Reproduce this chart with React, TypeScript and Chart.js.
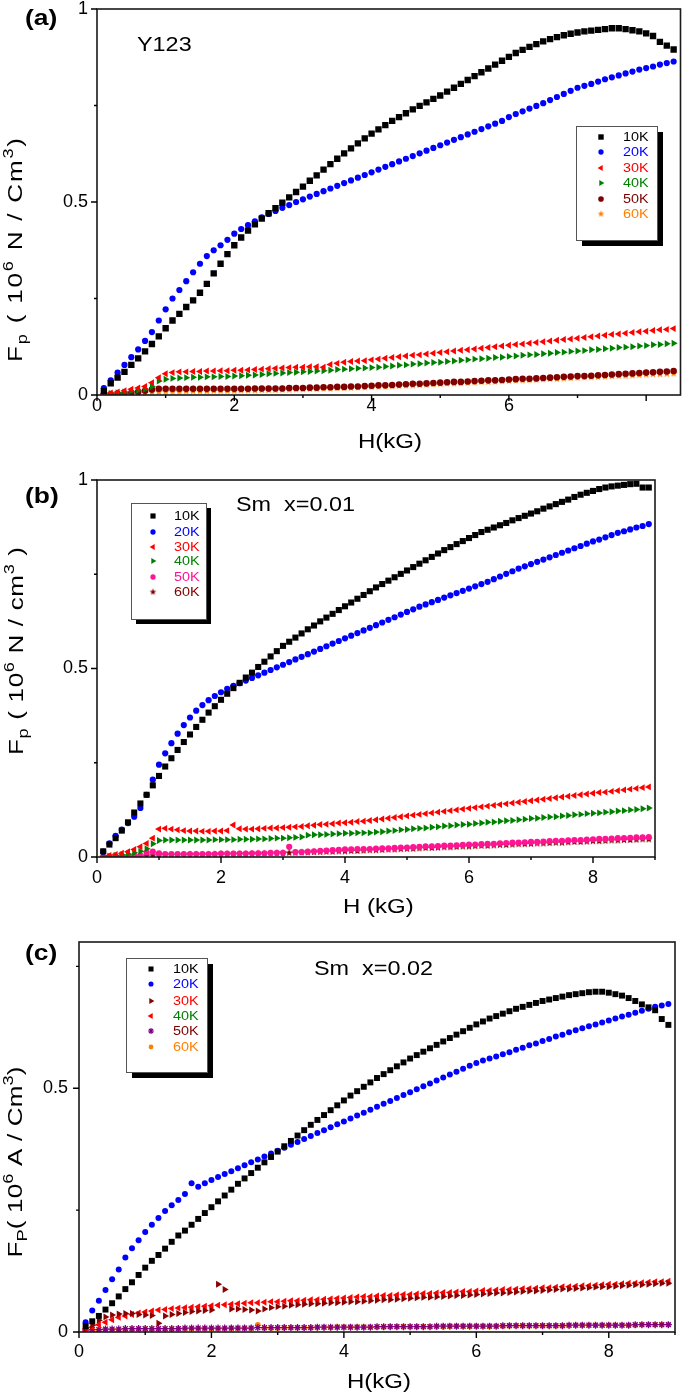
import React, { useEffect, useRef } from 'react';
import { Chart, registerables } from 'chart.js';
import { drawPoint } from 'chart.js/helpers';

Chart.register(...registerables);

const FONT = "'Liberation Sans', Arial, Helvetica, sans-serif";

// ---------------- data ----------------
const X_TICK_LABELS = ['0', '2', '4', '6', '8'];
const Y_TICK_LABELS_AB = ['0', '0.5', '1'];
const Y_TICK_LABELS_C = ['0', '0.5'];
const TEMPS = ['10K', '20K', '30K', '40K', '50K', '60K'];

// panel (a) Y123, H in kG
const H_A = [
  0.1, 0.2, 0.3, 0.4, 0.5, 0.6, 0.7, 0.8, 0.9, 1.0,
  1.1, 1.2, 1.3, 1.4, 1.5, 1.6, 1.7, 1.8, 1.9, 2.0,
  2.1, 2.2, 2.3, 2.4, 2.5, 2.6, 2.7, 2.8, 2.9, 3.0,
  3.1, 3.2, 3.3, 3.4, 3.5, 3.6, 3.7, 3.8, 3.9, 4.0,
  4.1, 4.2, 4.3, 4.4, 4.5, 4.6, 4.7, 4.8, 4.9, 5.0,
  5.1, 5.2, 5.3, 5.4, 5.5, 5.6, 5.7, 5.8, 5.9, 6.0,
  6.1, 6.2, 6.3, 6.4, 6.5, 6.6, 6.7, 6.8, 6.9, 7.0,
  7.1, 7.2, 7.3, 7.4, 7.5, 7.6, 7.7, 7.8, 7.9, 8.0,
  8.1, 8.2, 8.3, 8.4,
];
const A_10K = [
  0.01, 0.03, 0.045, 0.06, 0.078, 0.095, 0.113, 0.132, 0.152, 0.173,
  0.193, 0.21, 0.228, 0.245, 0.265, 0.288, 0.315, 0.34, 0.365, 0.388,
  0.408, 0.426, 0.442, 0.457, 0.471, 0.484, 0.498, 0.512, 0.526, 0.54,
  0.555, 0.569, 0.584, 0.598, 0.612, 0.626, 0.639, 0.652, 0.665, 0.677,
  0.688, 0.699, 0.71, 0.72, 0.73, 0.74, 0.749, 0.758, 0.767, 0.776,
  0.786, 0.796, 0.806, 0.816, 0.826, 0.836, 0.846, 0.856, 0.866, 0.876,
  0.886, 0.894, 0.902, 0.909, 0.916, 0.922, 0.927, 0.932, 0.936, 0.939,
  0.942, 0.944, 0.946, 0.948, 0.95, 0.95, 0.948, 0.945, 0.942, 0.937,
  0.93, 0.915, 0.905, 0.895,
];
const A_20K = [
  0.018, 0.038, 0.058, 0.078, 0.098, 0.118, 0.14, 0.163, 0.193, 0.222,
  0.25, 0.272, 0.295, 0.318, 0.34, 0.36, 0.375, 0.388, 0.402, 0.418,
  0.43, 0.44, 0.45, 0.46, 0.469, 0.477, 0.485, 0.492, 0.5, 0.507,
  0.514, 0.521, 0.528, 0.535, 0.542, 0.549, 0.556, 0.563, 0.57, 0.577,
  0.584, 0.591, 0.598, 0.605, 0.612, 0.619, 0.626, 0.633, 0.64, 0.647,
  0.654, 0.661, 0.668, 0.675, 0.682, 0.689, 0.696, 0.703, 0.71, 0.72,
  0.728, 0.735, 0.742, 0.749, 0.756, 0.764, 0.772, 0.78, 0.788, 0.796,
  0.801, 0.806, 0.812, 0.818, 0.823, 0.828, 0.833, 0.838, 0.843, 0.847,
  0.851, 0.856, 0.86, 0.864,
];
const A_30K = [
  0.003, 0.005, 0.008, 0.011, 0.015, 0.018, 0.022, 0.032, 0.045, 0.055,
  0.058, 0.06, 0.06, 0.061, 0.061, 0.062, 0.062, 0.063, 0.063, 0.064,
  0.064, 0.065, 0.066, 0.067, 0.068, 0.069, 0.07, 0.071, 0.072, 0.072,
  0.073, 0.073, 0.072, 0.079, 0.082, 0.085, 0.087, 0.088, 0.089, 0.091,
  0.093, 0.095, 0.097, 0.099, 0.101, 0.103, 0.104, 0.106, 0.108, 0.11,
  0.112, 0.114, 0.116, 0.117, 0.119, 0.121, 0.123, 0.125, 0.127, 0.129,
  0.131, 0.132, 0.134, 0.136, 0.138, 0.14, 0.142, 0.144, 0.145, 0.147,
  0.149, 0.151, 0.153, 0.155, 0.157, 0.158, 0.16, 0.162, 0.164, 0.165,
  0.167, 0.169, 0.17, 0.172,
];
const A_40K = [
  0.002, 0.004, 0.006, 0.008, 0.01, 0.012, 0.015, 0.022, 0.036, 0.041,
  0.043, 0.044, 0.045, 0.046, 0.046, 0.047, 0.047, 0.048, 0.048, 0.049,
  0.05, 0.051, 0.052, 0.053, 0.055, 0.056, 0.057, 0.058, 0.059, 0.06,
  0.061, 0.062, 0.063, 0.064, 0.066, 0.067, 0.068, 0.069, 0.07, 0.071,
  0.072, 0.074, 0.075, 0.077, 0.078, 0.08, 0.081, 0.083, 0.084, 0.085,
  0.087, 0.088, 0.09, 0.091, 0.093, 0.094, 0.095, 0.097, 0.098, 0.1,
  0.101, 0.103, 0.104, 0.105, 0.107, 0.108, 0.11, 0.111, 0.113, 0.114,
  0.115, 0.117, 0.118, 0.12, 0.121, 0.123, 0.124, 0.125, 0.127, 0.128,
  0.13, 0.131, 0.133, 0.134,
];
const A_50K = [
  0.001, 0.002, 0.003, 0.004, 0.006, 0.008, 0.011, 0.014, 0.016, 0.016,
  0.016, 0.016, 0.016, 0.016, 0.016, 0.016, 0.016, 0.016, 0.016, 0.016,
  0.016, 0.016, 0.017, 0.017, 0.017, 0.017, 0.017, 0.018, 0.018, 0.018,
  0.019, 0.019, 0.02, 0.02, 0.021, 0.021, 0.022, 0.022, 0.023, 0.024,
  0.025, 0.025, 0.026, 0.027, 0.028, 0.029, 0.029, 0.03, 0.031, 0.032,
  0.033, 0.034, 0.034, 0.035, 0.036, 0.037, 0.038, 0.038, 0.039, 0.04,
  0.041, 0.042, 0.042, 0.043, 0.044, 0.045, 0.046, 0.047, 0.048, 0.049,
  0.049, 0.05, 0.051, 0.052, 0.053, 0.054, 0.055, 0.056, 0.057, 0.058,
  0.059, 0.06, 0.061, 0.062,
];
const A_60K = [
  0.001, 0.001, 0.002, 0.002, 0.003, 0.004, 0.005, 0.007, 0.008, 0.009,
  0.009, 0.009, 0.01, 0.01, 0.01, 0.01, 0.011, 0.011, 0.011, 0.011,
  0.012, 0.012, 0.012, 0.013, 0.013, 0.013, 0.014, 0.014, 0.015, 0.015,
  0.016, 0.016, 0.017, 0.017, 0.018, 0.018, 0.019, 0.02, 0.02, 0.021,
  0.022, 0.022, 0.023, 0.024, 0.025, 0.025, 0.026, 0.027, 0.028, 0.029,
  0.03, 0.03, 0.031, 0.032, 0.033, 0.034, 0.034, 0.035, 0.036, 0.037,
  0.038, 0.038, 0.039, 0.04, 0.041, 0.042, 0.042, 0.043, 0.044, 0.045,
  0.046, 0.046, 0.047, 0.048, 0.049, 0.05, 0.05, 0.051, 0.052, 0.053,
  0.054, 0.054, 0.055, 0.056,
];

// panels (b) and (c), H in kG
const H_BC = [
  0.1, 0.2, 0.3, 0.4, 0.5, 0.6, 0.7, 0.8, 0.9, 1.0,
  1.1, 1.2, 1.3, 1.4, 1.5, 1.6, 1.7, 1.8, 1.9, 2.0,
  2.1, 2.2, 2.3, 2.4, 2.5, 2.6, 2.7, 2.8, 2.9, 3.0,
  3.1, 3.2, 3.3, 3.4, 3.5, 3.6, 3.7, 3.8, 3.9, 4.0,
  4.1, 4.2, 4.3, 4.4, 4.5, 4.6, 4.7, 4.8, 4.9, 5.0,
  5.1, 5.2, 5.3, 5.4, 5.5, 5.6, 5.7, 5.8, 5.9, 6.0,
  6.1, 6.2, 6.3, 6.4, 6.5, 6.6, 6.7, 6.8, 6.9, 7.0,
  7.1, 7.2, 7.3, 7.4, 7.5, 7.6, 7.7, 7.8, 7.9, 8.0,
  8.1, 8.2, 8.3, 8.4, 8.5, 8.6, 8.7, 8.8, 8.9,
];
const B_10K = [
  0.015, 0.033, 0.05, 0.07, 0.092, 0.118, 0.142, 0.165, 0.19, 0.215,
  0.24, 0.262, 0.284, 0.305, 0.325, 0.345, 0.364, 0.383, 0.4, 0.417,
  0.433, 0.448, 0.462, 0.476, 0.489, 0.504, 0.518, 0.532, 0.546, 0.56,
  0.571, 0.582, 0.593, 0.604, 0.614, 0.625, 0.635, 0.645, 0.655, 0.665,
  0.675, 0.685, 0.695, 0.705, 0.715, 0.724, 0.733, 0.742, 0.751, 0.76,
  0.769, 0.778, 0.787, 0.796, 0.805, 0.814, 0.822, 0.83, 0.838, 0.846,
  0.854, 0.862, 0.868, 0.874, 0.88, 0.886, 0.893, 0.899, 0.905, 0.911,
  0.917, 0.924, 0.93, 0.936, 0.942, 0.948, 0.955, 0.961, 0.966, 0.971,
  0.976, 0.98, 0.983, 0.985, 0.987, 0.989, 0.99, 0.98, 0.98,
];
const B_20K = [
  0.014, 0.036, 0.056, 0.073, 0.09, 0.107, 0.13, 0.165, 0.205, 0.245,
  0.275, 0.302, 0.327, 0.35, 0.37, 0.388, 0.403, 0.416, 0.427, 0.437,
  0.446, 0.454, 0.461, 0.468, 0.475, 0.482, 0.489, 0.496, 0.503, 0.51,
  0.517, 0.524, 0.531, 0.538, 0.545, 0.552, 0.559, 0.566, 0.573, 0.58,
  0.587, 0.594, 0.601, 0.608, 0.615, 0.622, 0.629, 0.636, 0.643, 0.65,
  0.657, 0.664, 0.67, 0.676, 0.682, 0.688, 0.694, 0.7, 0.706, 0.712,
  0.718, 0.724, 0.73, 0.737, 0.744, 0.751, 0.758, 0.765, 0.771, 0.777,
  0.783, 0.789, 0.795, 0.801, 0.807, 0.813, 0.819, 0.825, 0.831, 0.837,
  0.842, 0.848, 0.854, 0.86, 0.864, 0.869, 0.874, 0.878, 0.883,
];
const B_30K = [
  0.001, 0.004, 0.007, 0.01, 0.014, 0.02, 0.027, 0.036, 0.05, 0.074,
  0.076, 0.074, 0.072, 0.07, 0.069, 0.069, 0.068, 0.068, 0.069, 0.069,
  0.07, 0.085, 0.075, 0.074, 0.074, 0.075, 0.076, 0.077, 0.077, 0.078,
  0.079, 0.08, 0.081, 0.083, 0.084, 0.086, 0.087, 0.088, 0.09, 0.091,
  0.092, 0.094, 0.095, 0.097, 0.099, 0.101, 0.103, 0.105, 0.107, 0.109,
  0.111, 0.113, 0.115, 0.117, 0.119, 0.121, 0.123, 0.125, 0.127, 0.129,
  0.131, 0.133, 0.135, 0.137, 0.139, 0.141, 0.143, 0.145, 0.147, 0.149,
  0.151, 0.153, 0.155, 0.157, 0.159, 0.161, 0.163, 0.165, 0.167, 0.169,
  0.171, 0.172, 0.174, 0.176, 0.178, 0.18, 0.182, 0.184, 0.186,
];
const B_40K = [
  0.001, 0.002, 0.004, 0.006, 0.008, 0.011, 0.015, 0.022, 0.035, 0.044,
  0.045, 0.045, 0.045, 0.045, 0.045, 0.045, 0.045, 0.045, 0.046, 0.046,
  0.046, 0.046, 0.047, 0.047, 0.047, 0.048, 0.048, 0.049, 0.05, 0.05,
  0.051, 0.052, 0.053, 0.058, 0.059, 0.059, 0.06, 0.061, 0.062, 0.063,
  0.063, 0.064, 0.064, 0.064, 0.066, 0.067, 0.069, 0.07, 0.072, 0.073,
  0.075, 0.076, 0.077, 0.079, 0.08, 0.082, 0.083, 0.085, 0.086, 0.087,
  0.089, 0.09, 0.092, 0.093, 0.095, 0.096, 0.097, 0.099, 0.1, 0.102,
  0.103, 0.105, 0.106, 0.107, 0.109, 0.11, 0.112, 0.113, 0.115, 0.116,
  0.117, 0.119, 0.12, 0.122, 0.123, 0.125, 0.126, 0.128, 0.13,
];
const B_50K = [
  0.0, 0.001, 0.001, 0.002, 0.002, 0.003, 0.004, 0.012, 0.014, 0.01,
  0.008, 0.008, 0.008, 0.008, 0.008, 0.008, 0.008, 0.008, 0.008, 0.009,
  0.009, 0.009, 0.009, 0.009, 0.01, 0.01, 0.01, 0.011, 0.011, 0.011,
  0.027, 0.013, 0.013, 0.014, 0.015, 0.016, 0.017, 0.018, 0.019, 0.02,
  0.02, 0.021, 0.021, 0.021, 0.022, 0.023, 0.023, 0.024, 0.025, 0.025,
  0.026, 0.027, 0.028, 0.028, 0.029, 0.03, 0.03, 0.031, 0.032, 0.033,
  0.033, 0.034, 0.035, 0.035, 0.036, 0.037, 0.038, 0.038, 0.039, 0.04,
  0.04, 0.041, 0.042, 0.043, 0.043, 0.044, 0.045, 0.045, 0.046, 0.047,
  0.048, 0.048, 0.049, 0.05, 0.05, 0.051, 0.052, 0.052, 0.053,
];
const B_60K = [
  0.0, 0.0, 0.001, 0.001, 0.001, 0.002, 0.002, 0.003, 0.004, 0.004,
  0.005, 0.005, 0.005, 0.005, 0.006, 0.006, 0.006, 0.006, 0.007, 0.007,
  0.007, 0.007, 0.008, 0.008, 0.008, 0.009, 0.009, 0.009, 0.01, 0.01,
  0.011, 0.011, 0.012, 0.012, 0.013, 0.013, 0.014, 0.014, 0.015, 0.015,
  0.016, 0.016, 0.017, 0.018, 0.018, 0.019, 0.02, 0.02, 0.021, 0.022,
  0.022, 0.023, 0.024, 0.024, 0.025, 0.026, 0.026, 0.027, 0.028, 0.028,
  0.029, 0.03, 0.03, 0.031, 0.032, 0.032, 0.033, 0.034, 0.034, 0.035,
  0.036, 0.036, 0.037, 0.038, 0.038, 0.039, 0.04, 0.04, 0.041, 0.042,
  0.042, 0.043, 0.044, 0.044, 0.045, 0.045, 0.046, 0.047, 0.047,
];
const C_10K = [
  0.012, 0.022, 0.033, 0.046, 0.059, 0.073, 0.088, 0.102, 0.117, 0.132,
  0.146, 0.158, 0.171, 0.185, 0.198, 0.208, 0.22, 0.232, 0.244, 0.256,
  0.268, 0.28, 0.292, 0.304, 0.315, 0.326, 0.337, 0.348, 0.359, 0.37,
  0.381, 0.392, 0.403, 0.414, 0.425, 0.435, 0.445, 0.455, 0.465, 0.475,
  0.485, 0.494, 0.503, 0.512, 0.521, 0.529, 0.537, 0.545, 0.553, 0.561,
  0.568, 0.575, 0.582, 0.589, 0.596, 0.603, 0.61, 0.617, 0.624, 0.631,
  0.637, 0.643, 0.648, 0.653, 0.658, 0.663, 0.667, 0.671, 0.675, 0.679,
  0.682, 0.685, 0.688, 0.691, 0.693, 0.695, 0.697, 0.698, 0.698, 0.696,
  0.693, 0.69, 0.685, 0.679, 0.672, 0.666, 0.66, 0.642, 0.63,
];
const C_20K = [
  0.02, 0.044, 0.064, 0.086, 0.108, 0.128, 0.153, 0.172, 0.188, 0.205,
  0.22, 0.234, 0.248, 0.26, 0.271, 0.283, 0.305, 0.298, 0.305, 0.312,
  0.318, 0.324, 0.33, 0.336, 0.342, 0.348, 0.354, 0.36, 0.366, 0.372,
  0.378, 0.384, 0.39, 0.396, 0.402, 0.408, 0.414, 0.42, 0.426, 0.432,
  0.438, 0.444, 0.45, 0.456, 0.462, 0.468, 0.474, 0.48, 0.486, 0.492,
  0.498, 0.504, 0.51, 0.516, 0.522, 0.528, 0.534, 0.54, 0.546, 0.552,
  0.557, 0.561, 0.565, 0.57, 0.574, 0.579, 0.583, 0.588, 0.592, 0.597,
  0.601, 0.606, 0.61, 0.615, 0.619, 0.623, 0.627, 0.631, 0.635, 0.639,
  0.643, 0.647, 0.651, 0.655, 0.659, 0.663, 0.667, 0.67, 0.673,
];
const C_30K = [
  0.008, 0.014, 0.024, 0.031, 0.035, 0.037, 0.038, 0.038, 0.036, 0.035,
  0.034, 0.018, 0.033, 0.036, 0.038, 0.04, 0.042, 0.043, 0.044, 0.045,
  0.098, 0.087, 0.047, 0.047, 0.046, 0.045, 0.043, 0.047, 0.05, 0.052,
  0.053, 0.055, 0.056, 0.057, 0.058, 0.058, 0.059, 0.06, 0.06, 0.061,
  0.062, 0.062, 0.063, 0.064, 0.065, 0.066, 0.066, 0.067, 0.068, 0.069,
  0.07, 0.071, 0.071, 0.072, 0.073, 0.074, 0.075, 0.075, 0.076, 0.077,
  0.078, 0.079, 0.08, 0.08, 0.081, 0.082, 0.083, 0.084, 0.084, 0.085,
  0.086, 0.087, 0.088, 0.088, 0.089, 0.09, 0.091, 0.092, 0.093, 0.093,
  0.094, 0.095, 0.096, 0.097, 0.097, 0.098, 0.099, 0.1, 0.1,
];
const C_40K = [
  0.006, 0.01, 0.015, 0.02, 0.025, 0.03, 0.033, 0.036, 0.039, 0.041,
  0.043, 0.045, 0.046, 0.048, 0.049, 0.05, 0.051, 0.052, 0.053, 0.054,
  0.055, 0.056, 0.057, 0.058, 0.059, 0.06, 0.06, 0.061, 0.062, 0.062,
  0.063, 0.064, 0.064, 0.065, 0.066, 0.066, 0.067, 0.068, 0.069, 0.07,
  0.071, 0.072, 0.073, 0.073, 0.074, 0.075, 0.075, 0.076, 0.077, 0.077,
  0.078, 0.079, 0.079, 0.08, 0.081, 0.081, 0.082, 0.083, 0.083, 0.084,
  0.085, 0.085, 0.086, 0.087, 0.087, 0.088, 0.089, 0.089, 0.09, 0.091,
  0.091, 0.092, 0.093, 0.093, 0.094, 0.095, 0.095, 0.096, 0.097, 0.098,
  0.098, 0.099, 0.1, 0.1, 0.101, 0.102, 0.103, 0.103, 0.104,
];
const C_50K = [
  0.004, 0.005, 0.005, 0.006, 0.006, 0.006, 0.007, 0.007, 0.007, 0.007,
  0.007, 0.007, 0.007, 0.007, 0.007, 0.008, 0.008, 0.008, 0.008, 0.008,
  0.008, 0.008, 0.008, 0.008, 0.008, 0.008, 0.009, 0.009, 0.009, 0.009,
  0.009, 0.009, 0.009, 0.009, 0.009, 0.01, 0.01, 0.01, 0.01, 0.01,
  0.01, 0.01, 0.01, 0.01, 0.011, 0.011, 0.011, 0.011, 0.011, 0.011,
  0.011, 0.011, 0.011, 0.012, 0.012, 0.012, 0.012, 0.012, 0.012, 0.012,
  0.012, 0.012, 0.012, 0.013, 0.013, 0.013, 0.013, 0.013, 0.013, 0.013,
  0.013, 0.013, 0.013, 0.014, 0.014, 0.014, 0.014, 0.014, 0.014, 0.014,
  0.014, 0.014, 0.014, 0.015, 0.015, 0.015, 0.015, 0.015, 0.015,
];
const C_60K = [
  0.003, 0.004, 0.004, 0.005, 0.005, 0.005, 0.005, 0.006, 0.006, 0.006,
  0.006, 0.006, 0.006, 0.006, 0.007, 0.007, 0.007, 0.007, 0.007, 0.007,
  0.007, 0.007, 0.008, 0.008, 0.008, 0.008, 0.015, 0.008, 0.008, 0.008,
  0.009, 0.009, 0.009, 0.009, 0.009, 0.009, 0.009, 0.009, 0.01, 0.01,
  0.01, 0.01, 0.01, 0.01, 0.01, 0.01, 0.011, 0.011, 0.011, 0.011,
  0.011, 0.011, 0.011, 0.011, 0.011, 0.012, 0.012, 0.012, 0.012, 0.012,
  0.012, 0.012, 0.012, 0.012, 0.013, 0.013, 0.013, 0.013, 0.013, 0.013,
  0.013, 0.013, 0.013, 0.013, 0.014, 0.014, 0.014, 0.014, 0.014, 0.014,
  0.014, 0.014, 0.014, 0.014, 0.015, 0.015, 0.015, 0.015, 0.015,
];

// ---------------- helpers ----------------
type Seg = { t: string; size: number; dy?: number; bold?: boolean };
type TextOpts = { sx?: number; rotate?: boolean; len?: number; maxSx?: number; align?: 'left' | 'center'; color?: string };

function drawText(ctx: CanvasRenderingContext2D, segs: Seg[], x: number, y: number, o: TextOpts = {}) {
  const chars: { ch: string; font: string; dy: number; w: number }[] = [];
  for (const s of segs) {
    const font = `${s.bold ? 'bold ' : ''}${s.size}px ${FONT}`;
    ctx.font = font;
    for (const ch of s.t) chars.push({ ch, font, dy: s.dy || 0, w: ctx.measureText(ch).width });
  }
  const raw = chars.reduce((a, c) => a + c.w, 0);
  let sx = o.sx ?? 1;
  if (o.len && o.maxSx) sx = Math.min(o.len / raw, o.maxSx);
  const natural = raw * sx;
  const gap = o.len ? (o.len - natural) / Math.max(chars.length - 1, 1) : 0;
  const total = o.len ?? natural;
  ctx.save();
  ctx.translate(x, y);
  if (o.rotate) ctx.rotate(-Math.PI / 2);
  ctx.fillStyle = o.color ?? '#000';
  ctx.textBaseline = 'alphabetic';
  ctx.textAlign = 'left';
  let pos = o.align === 'center' ? -total / 2 : 0;
  for (const c of chars) {
    ctx.font = c.font;
    ctx.save();
    ctx.translate(pos, c.dy);
    ctx.scale(sx, 1);
    ctx.fillText(c.ch, 0, 0);
    ctx.restore();
    pos += c.w * sx + gap;
  }
  ctx.restore();
}

function makeStar(color: string, r: number): HTMLCanvasElement {
  const s = Math.ceil(r * 2 + 2);
  const c = document.createElement('canvas');
  c.width = s;
  c.height = s;
  const g = c.getContext('2d')!;
  g.fillStyle = color;
  g.beginPath();
  for (let i = 0; i < 10; i++) {
    const rr = i % 2 === 0 ? r : r * 0.45;
    const a = -Math.PI / 2 + (i * Math.PI) / 5;
    const px = s / 2 + rr * Math.cos(a);
    const py = s / 2 + rr * Math.sin(a);
    if (i === 0) g.moveTo(px, py);
    else g.lineTo(px, py);
  }
  g.closePath();
  g.fill();
  return c;
}

interface SeriesSpec {
  label: string;
  ys: number[];
  color: string;
  textColor: string;
  style: string;
  radius: number;
  rotation?: number;
  stroke?: boolean;
}

interface PanelSpec {
  top: number;
  height: number;
  area: { l: number; r: number; t: number; b: number };
  xMax: number;
  yMax: number;
  xs: number[];
  yLabels: string[];
  xPad: number;
  yPad: number;
  series: SeriesSpec[];
  panelLabel: { text: string; x: number; y: number };
  note: { text: string; x: number; y: number; size: number };
  xTitle: { text: string; x: number; y: number };
  yTitle: { segs: Seg[]; x: number; y: number; len: number };
  legend: { x: number; y: number; w: number; h: number; sh: number; rows: number[]; mx: number; tx: number };
}

const SUB = 5;
const SUP = -9;

const PANELS: PanelSpec[] = [
  {
    top: 0,
    height: 462,
    area: { l: 97, r: 683, t: 9, b: 395 },
    xMax: 8.5,
    yMax: 1,
    xs: H_A,
    yLabels: Y_TICK_LABELS_AB,
    xPad: 0,
    yPad: 9,
    series: [
      { label: TEMPS[0], ys: A_10K, color: '#000000', textColor: '#000000', style: 'rect', radius: 4.5 },
      { label: TEMPS[1], ys: A_20K, color: '#0000ff', textColor: '#0000ff', style: 'circle', radius: 3.1 },
      { label: TEMPS[2], ys: A_30K, color: '#ff0000', textColor: '#ff0000', style: 'triangle', radius: 4, rotation: -90 },
      { label: TEMPS[3], ys: A_40K, color: '#008000', textColor: '#008000', style: 'triangle', radius: 4, rotation: 90 },
      { label: TEMPS[4], ys: A_50K, color: '#800000', textColor: '#800000', style: 'circle', radius: 3.3 },
      { label: TEMPS[5], ys: A_60K, color: '#ff8000', textColor: '#ff8000', style: 'star5', radius: 4 },
    ],
    panelLabel: { text: '(a)', x: 25, y: 25 },
    note: { text: 'Y123', x: 137, y: 51, size: 19.5 },
    xTitle: { text: 'H(kG)', x: 358, y: 448 },
    yTitle: {
      segs: [
        { t: 'F', size: 20 },
        { t: 'p', size: 14, dy: SUB },
        { t: ' ( 10', size: 20 },
        { t: '6', size: 14, dy: SUP },
        { t: ' N / Cm', size: 20 },
        { t: '3', size: 14, dy: SUP },
        { t: ')', size: 20 },
      ],
      x: 22,
      y: 250,
      len: 224,
    },
    legend: { x: 576, y: 126, w: 81, h: 114, sh: 6, rows: [137, 152, 168, 183, 199, 214], mx: 601, tx: 623 },
  },
  {
    top: 462,
    height: 466,
    area: { l: 97, r: 655, t: 480, b: 857 },
    xMax: 9,
    yMax: 1,
    xs: H_BC,
    yLabels: Y_TICK_LABELS_AB,
    xPad: 10,
    yPad: 9,
    series: [
      { label: TEMPS[0], ys: B_10K, color: '#000000', textColor: '#000000', style: 'rect', radius: 4.3 },
      { label: TEMPS[1], ys: B_20K, color: '#0000ff', textColor: '#0000ff', style: 'circle', radius: 3.1 },
      { label: TEMPS[2], ys: B_30K, color: '#ff0000', textColor: '#ff0000', style: 'triangle', radius: 4, rotation: -90 },
      { label: TEMPS[3], ys: B_40K, color: '#008000', textColor: '#008000', style: 'triangle', radius: 4, rotation: 90 },
      { label: TEMPS[4], ys: B_50K, color: '#ff1493', textColor: '#ff1493', style: 'circle', radius: 3.1 },
      { label: TEMPS[5], ys: B_60K, color: '#800000', textColor: '#800000', style: 'star5', radius: 4 },
    ],
    panelLabel: { text: '(b)', x: 25, y: 503 },
    note: { text: 'Sm  x=0.01', x: 236, y: 511, size: 19.5 },
    xTitle: { text: 'H (kG)', x: 343, y: 913 },
    yTitle: {
      segs: [
        { t: 'F', size: 20 },
        { t: 'p', size: 14, dy: SUB },
        { t: ' ( 10', size: 20 },
        { t: '6', size: 14, dy: SUP },
        { t: ' N / cm', size: 20 },
        { t: '3', size: 14, dy: SUP },
        { t: ' )', size: 20 },
      ],
      x: 23,
      y: 651,
      len: 208,
    },
    legend: { x: 131, y: 503, w: 75, h: 116, sh: 5, rows: [516, 532, 547, 561, 577, 592], mx: 153, tx: 174 },
  },
  {
    top: 928,
    height: 468,
    area: { l: 79, r: 675, t: 942, b: 1332 },
    xMax: 9,
    yMax: 0.8,
    xs: H_BC,
    yLabels: Y_TICK_LABELS_C,
    xPad: 9,
    yPad: 11,
    series: [
      { label: TEMPS[0], ys: C_10K, color: '#000000', textColor: '#000000', style: 'rect', radius: 4.2 },
      { label: TEMPS[1], ys: C_20K, color: '#0000ff', textColor: '#0000ff', style: 'circle', radius: 3 },
      { label: TEMPS[2], ys: C_30K, color: '#8b0000', textColor: '#ff0000', style: 'triangle', radius: 4, rotation: 90 },
      { label: TEMPS[3], ys: C_40K, color: '#ff0000', textColor: '#008000', style: 'triangle', radius: 4, rotation: -90 },
      { label: TEMPS[4], ys: C_50K, color: '#800080', textColor: '#800000', style: 'star', radius: 3.5, stroke: true },
      { label: TEMPS[5], ys: C_60K, color: '#ff8000', textColor: '#ff8000', style: 'circle', radius: 2.8 },
    ],
    panelLabel: { text: '(c)', x: 25, y: 960 },
    note: { text: 'Sm  x=0.02', x: 314, y: 975, size: 19.5 },
    xTitle: { text: 'H(kG)', x: 347, y: 1388 },
    yTitle: {
      segs: [
        { t: 'F', size: 20 },
        { t: 'P', size: 14, dy: SUB },
        { t: '( 10', size: 20 },
        { t: '6', size: 14, dy: SUP },
        { t: ' A / Cm', size: 20 },
        { t: '3', size: 14, dy: SUP },
        { t: ')', size: 20 },
      ],
      x: 22,
      y: 1162,
      len: 191,
    },
    legend: { x: 126, y: 958, w: 81, h: 114, sh: 6, rows: [969, 984, 1001, 1016, 1031, 1047], mx: 151, tx: 173 },
  },
];

const SX = 1.2;

function buildChart(canvas: HTMLCanvasElement, p: PanelSpec): Chart {
  const oy = p.top;
  const images: Record<string, HTMLCanvasElement> = {};
  const styleOf = (s: SeriesSpec, scale = 1): any => {
    if (s.style === 'star5') {
      const key = s.color + scale;
      if (!images[key]) images[key] = makeStar(s.color, s.radius * scale);
      return images[key];
    }
    return s.style;
  };

  const datasets = p.series.map((s) => ({
    label: s.label,
    data: p.xs.map((x, i) => ({ x, y: s.ys[i] })).filter((d) => d.y !== undefined),
    showLine: false,
    pointStyle: styleOf(s),
    pointRadius: s.radius,
    pointRotation: s.rotation ?? 0,
    pointBackgroundColor: s.color,
    pointBorderColor: s.color,
    pointBorderWidth: s.stroke ? 1.3 : 0,
    backgroundColor: s.color,
    borderColor: s.color,
  }));

  const decor = {
    id: 'decor',
    afterDraw(chart: any) {
      const ctx: CanvasRenderingContext2D = chart.ctx;
      const { left, right, top, bottom } = chart.chartArea;
      const xs = chart.scales.x;
      const ys = chart.scales.y;
      ctx.save();
      // frame
      ctx.strokeStyle = '#1a1a1a';
      ctx.lineWidth = 1.6;
      ctx.strokeRect(left, top, right - left, bottom - top);
      // tick marks
      ctx.strokeStyle = '#000';
      ctx.lineWidth = 1.4;
      ctx.beginPath();
      for (let v = 0; v <= p.xMax + 1e-9; v += 1) {
        const px = xs.getPixelForValue(v);
        const len = v % 2 === 0 ? 6 : 3;
        ctx.moveTo(px, bottom);
        ctx.lineTo(px, bottom + len);
      }
      for (let k = 0; k * 0.25 <= p.yMax + 1e-9; k++) {
        const py = ys.getPixelForValue(k * 0.25);
        const len = k % 2 === 0 ? 6 : 3;
        ctx.moveTo(left, py);
        ctx.lineTo(left - len, py);
      }
      ctx.stroke();

      // texts
      drawText(ctx, [{ t: p.panelLabel.text, size: 22, bold: true }], p.panelLabel.x, p.panelLabel.y - oy, { sx: SX });
      drawText(ctx, [{ t: p.note.text, size: p.note.size }], p.note.x, p.note.y - oy, { sx: SX });
      drawText(ctx, [{ t: p.xTitle.text, size: 20 }], p.xTitle.x, p.xTitle.y - oy, { sx: SX });
      drawText(ctx, p.yTitle.segs, p.yTitle.x, p.yTitle.y - oy, { rotate: true, len: p.yTitle.len, maxSx: 1.3, align: 'center' });

      // legend
      const L = p.legend;
      ctx.fillStyle = '#000';
      ctx.fillRect(L.x + L.sh, L.y - oy + L.sh, L.w, L.h);
      ctx.fillStyle = '#fff';
      ctx.fillRect(L.x, L.y - oy, L.w, L.h);
      ctx.strokeStyle = '#555';
      ctx.lineWidth = 1;
      ctx.strokeRect(L.x + 0.5, L.y - oy + 0.5, L.w, L.h);
      p.series.forEach((s, i) => {
        const y = L.rows[i] - oy;
        ctx.fillStyle = s.color;
        ctx.strokeStyle = s.color;
        ctx.lineWidth = s.stroke ? 1.2 : 1;
        drawPoint(
          ctx,
          { pointStyle: styleOf(s, 0.85), radius: s.radius * 0.85, rotation: s.rotation ?? 0, borderWidth: s.stroke ? 1.2 : 0 } as any,
          L.mx,
          y,
        );
        drawText(ctx, [{ t: s.label, size: 12 }], L.tx, y + 4.3, { sx: SX, color: s.textColor });
      });
      ctx.restore();
    },
  };

  const tickFont = { family: FONT, size: 18 };

  return new Chart(canvas, {
    type: 'scatter',
    data: { datasets } as any,
    options: {
      animation: false,
      responsive: false,
      maintainAspectRatio: false,
      devicePixelRatio: 1,
      events: [],
      layout: { padding: { top: p.area.t - oy, right: 685 - p.area.r, left: 0, bottom: 0 } },
      plugins: { legend: { display: false }, tooltip: { enabled: false } },
      scales: {
        x: {
          type: 'linear',
          min: 0,
          max: p.xMax,
          grid: { display: false, drawTicks: false },
          border: { display: false },
          ticks: {
            stepSize: 1,
            autoSkip: false,
            maxRotation: 0,
            padding: p.xPad,
            color: '#000',
            font: tickFont,
            callback: (v: any) => (X_TICK_LABELS.includes(String(v)) ? String(v) : ''),
          },
          afterFit: (s: any) => {
            s.height = p.height - (p.area.b - oy);
            s.paddingLeft = 0;
            s.paddingRight = 0;
          },
        },
        y: {
          type: 'linear',
          min: 0,
          max: p.yMax,
          grid: { display: false, drawTicks: false },
          border: { display: false },
          ticks: {
            stepSize: 0.25,
            autoSkip: false,
            padding: p.yPad,
            color: '#000',
            font: tickFont,
            callback: (v: any) => (p.yLabels.includes(String(v)) ? String(v) : ''),
          },
          afterFit: (s: any) => {
            s.width = p.area.l;
            s.paddingTop = 0;
            s.paddingBottom = 0;
          },
        },
      },
    } as any,
    plugins: [decor],
  });
}

export default function App() {
  const refs = [useRef<HTMLCanvasElement>(null), useRef<HTMLCanvasElement>(null), useRef<HTMLCanvasElement>(null)];

  useEffect(() => {
    const charts = PANELS.map((p, i) => buildChart(refs[i].current!, p));
    return () => charts.forEach((c) => c.destroy());
  }, []);

  return (
    <div style={{ position: 'absolute', left: 0, top: 0, width: 685, height: 1396, background: '#fff' }}>
      {PANELS.map((p, i) => (
        <canvas
          key={i}
          ref={refs[i]}
          width={685}
          height={p.height}
          style={{ position: 'absolute', left: 0, top: p.top, width: 685, height: p.height, display: 'block' }}
        />
      ))}
    </div>
  );
}
